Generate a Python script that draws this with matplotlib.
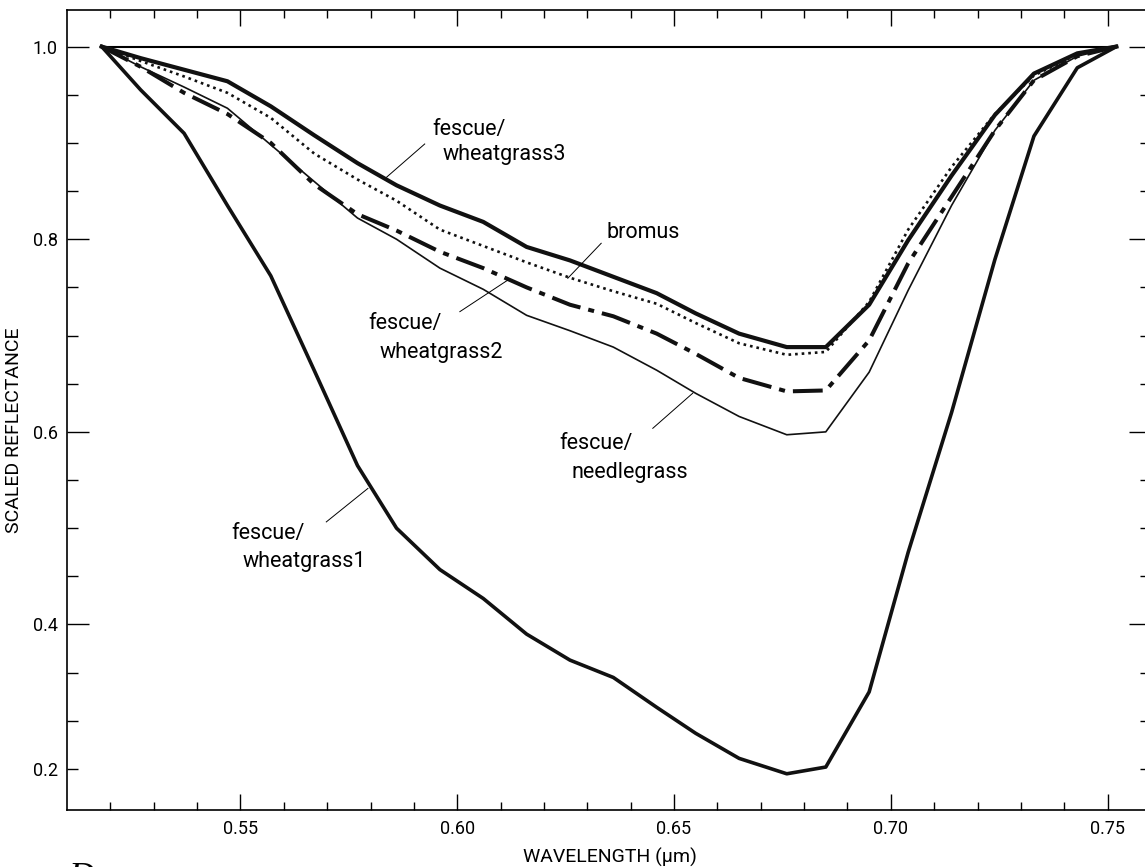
import matplotlib
matplotlib.use("Agg")
import matplotlib.pyplot as plt
from matplotlib.ticker import FixedLocator, FixedFormatter

plt.rcParams['font.family'] = ['Roboto', 'DejaVu Sans']

# wavelength (um) of the band centres
wavelength = [0.518, 0.527, 0.537, 0.547, 0.557, 0.567, 0.577, 0.586, 0.596, 0.606,
              0.616, 0.626, 0.636, 0.646, 0.655, 0.665, 0.676, 0.685, 0.695, 0.704,
              0.714, 0.724, 0.733, 0.743, 0.752]

# continuum-scaled reflectance
wheatgrass3 = [1.0, 0.988, 0.976, 0.964, 0.938, 0.908, 0.879, 0.856, 0.835, 0.818,
               0.792, 0.778, 0.761, 0.744, 0.723, 0.702, 0.688, 0.688, 0.732, 0.799,
               0.866, 0.929, 0.972, 0.993, 1.0]
bromus = [1.0, 0.985, 0.969, 0.952, 0.926, 0.889, 0.862, 0.840, 0.810, 0.793,
          0.776, 0.760, 0.746, 0.733, 0.713, 0.692, 0.680, 0.683, 0.735, 0.810,
          0.875, 0.930, 0.970, 0.992, 1.0]
wheatgrass2 = [1.0, 0.979, 0.952, 0.930, 0.900, 0.857, 0.826, 0.809, 0.787, 0.770,
               0.750, 0.732, 0.720, 0.702, 0.681, 0.656, 0.642, 0.643, 0.695, 0.775,
               0.844, 0.913, 0.965, 0.990, 1.0]
needlegrass = [1.0, 0.979, 0.958, 0.936, 0.898, 0.860, 0.822, 0.800, 0.770, 0.748,
               0.721, 0.705, 0.688, 0.664, 0.640, 0.616, 0.597, 0.600, 0.662, 0.747,
               0.835, 0.913, 0.965, 0.990, 1.0]
wheatgrass1 = [1.0, 0.955, 0.910, 0.835, 0.762, 0.664, 0.565, 0.500, 0.457, 0.427,
               0.390, 0.363, 0.345, 0.314, 0.287, 0.261, 0.245, 0.252, 0.330, 0.475,
               0.620, 0.779, 0.907, 0.978, 1.0]
continuum_x = [0.518, 0.752]
continuum_y = [1.0, 1.0]

W, H = 1145, 867
fig = plt.figure(figsize=(W / 100, H / 100), dpi=100)
ax = fig.add_axes([67 / W, 1 - 810 / H, (1151 - 67) / W, 800 / H])

ax.plot(continuum_x, continuum_y, color='black', lw=1.5)
ax.plot(wavelength, wheatgrass1, color='#111111', lw=2.6)
ax.plot(wavelength, needlegrass, color='#111111', lw=1.2)
ax.plot(wavelength, wheatgrass2, color='#111111', lw=2.9,
        linestyle=(0, (7.4, 2.0, 1.5, 2.0)))
ax.plot(wavelength, bromus, color='#111111', lw=1.9, linestyle=(0, (1, 1.5)))
ax.plot(wavelength, wheatgrass3, color='#111111', lw=3.0)

ax.set_xlim(0.51, 0.76)
ax.set_ylim(0.2074, 1.038)

# x ticks
ax.xaxis.set_major_locator(FixedLocator([0.55, 0.60, 0.65, 0.70, 0.75]))
ax.xaxis.set_major_formatter(FixedFormatter(['0.55', '0.60', '0.65', '0.70', '0.75']))
ax.xaxis.set_minor_locator(FixedLocator([0.52, 0.53, 0.54, 0.56, 0.57, 0.58, 0.59,
                                         0.61, 0.62, 0.63, 0.64, 0.66, 0.67, 0.68,
                                         0.69, 0.71, 0.72, 0.73, 0.74]))
ax.tick_params(axis='x', which='major', direction='in', length=11.3, width=1,
               top=True, bottom=True, labelsize=13, pad=7)
ax.tick_params(axis='x', which='minor', direction='in', length=5.5, width=1,
               top=True, bottom=True)

# y ticks (the original puts its "0.2" label on the 0.25 tick)
ax.yaxis.set_major_locator(FixedLocator([0.4, 0.6, 0.8, 1.0]))
ax.yaxis.set_major_formatter(FixedFormatter(['0.4', '0.6', '0.8', '1.0']))
y_minor = [0.25, 0.30, 0.35, 0.45, 0.50, 0.55, 0.65, 0.70, 0.75, 0.85, 0.90, 0.95]
y_minor_labels = ['0.2', '', '', '', '', '', '', '', '', '', '', '']
ax.yaxis.set_minor_locator(FixedLocator(y_minor))
ax.yaxis.set_minor_formatter(FixedFormatter(y_minor_labels))
ax.tick_params(axis='y', which='major', direction='in', length=15.6, width=1,
               left=True, right=True, labelsize=13, pad=6.5)
ax.tick_params(axis='y', which='minor', direction='in', length=7.7, width=1,
               left=True, right=True, labelsize=13, pad=6.5)

for s in ax.spines.values():
    s.set_linewidth(1.2)

fig.text(610 / W, 1 - 857 / H, 'WAVELENGTH (μm)', ha='center', va='center', fontsize=14)
fig.text(14 / W, 1 - 430 / H, 'SCALED REFLECTANCE', ha='center', va='center',
         rotation=90, fontsize=14)
fig.text(68 / W, 1 - 862 / H, 'D', ha='left', va='top', fontsize=26,
         family='Liberation Serif', style='italic')

# curve labels with leader lines
lab = dict(fontsize=15.5, ha='left', va='center')
ax.text(0.5943, 0.9135, 'fescue/', **lab)
ax.text(0.5966, 0.8875, 'wheatgrass3', **lab)
ax.plot([0.5925, 0.5837], [0.8989, 0.8644], color='black', lw=0.7)

ax.text(0.6344, 0.8065, 'bromus', **lab)
ax.plot([0.6332, 0.6255], [0.7958, 0.7595], color='black', lw=0.7)

ax.text(0.5794, 0.7124, 'fescue/', **lab)
ax.text(0.5821, 0.6826, 'wheatgrass2', **lab)
ax.plot([0.6006, 0.6117], [0.7248, 0.7577], color='black', lw=0.7)

ax.text(0.6236, 0.5874, 'fescue/', **lab)
ax.text(0.6263, 0.5573, 'needlegrass', **lab)
ax.plot([0.6451, 0.6543], [0.6037, 0.6401], color='black', lw=0.7)

ax.text(0.5480, 0.4943, 'fescue/', **lab)
ax.text(0.5505, 0.4649, 'wheatgrass1', **lab)
ax.plot([0.5698, 0.5794], [0.5065, 0.5413], color='black', lw=0.7)

fig.savefig('out.png', dpi=100)
